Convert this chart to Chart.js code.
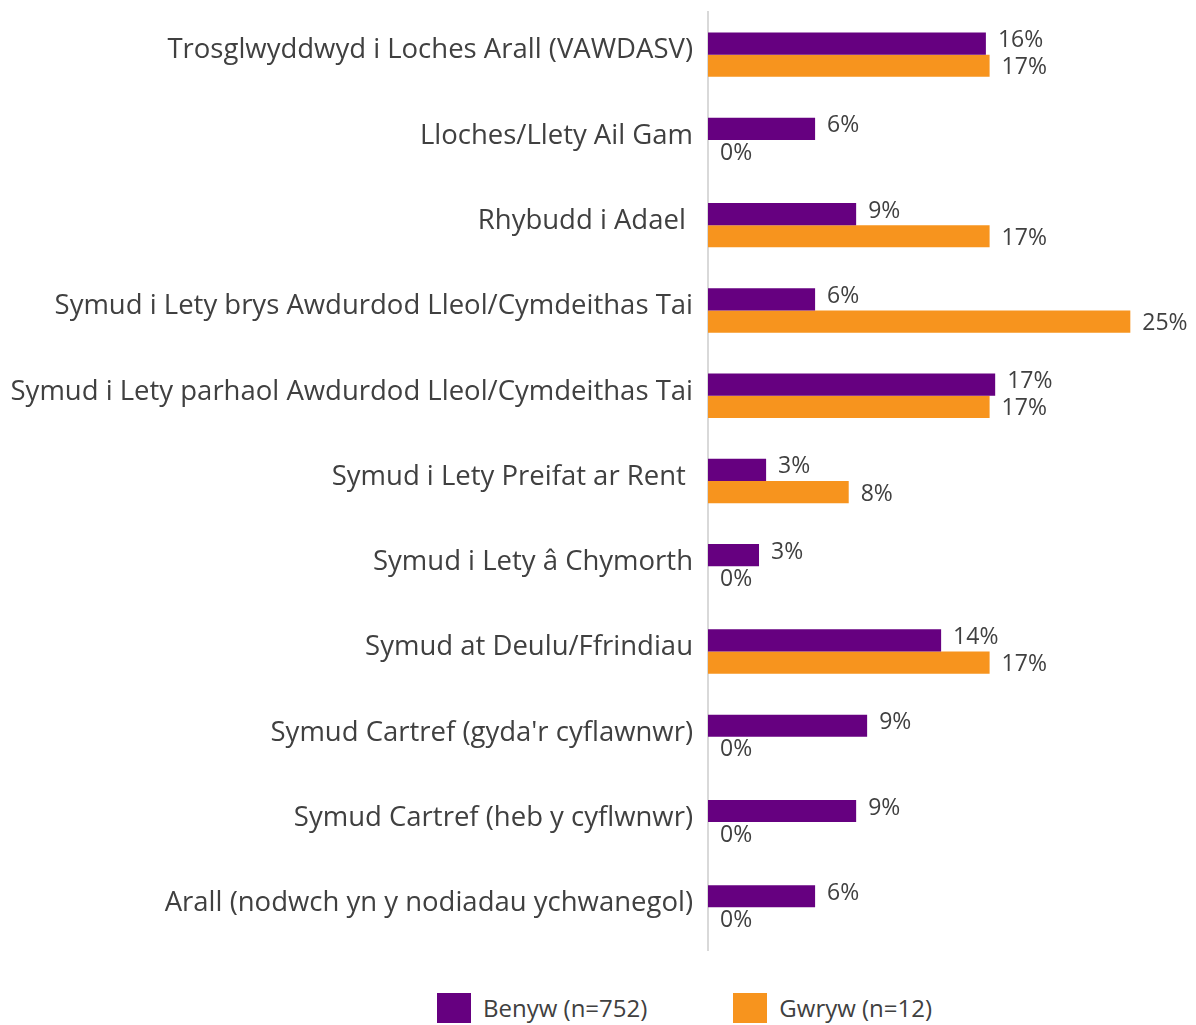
<!DOCTYPE html>
<html>
<head>
<meta charset="utf-8">
<script src="https://cdn.jsdelivr.net/npm/chart.js@4"></script>
<style>
  body { margin: 0; background: #fff; font-family: "Open Sans", sans-serif; }
  #wrap { position: relative; width: 1196px; height: 1025px; }
  #chartBox { position: absolute; left: 0; top: 0; width: 1196px; height: 965px; }
  #legend { position: absolute; left: 437px; top: 993px; display: flex; align-items: center; }
  .leg-item { display: flex; align-items: center; margin-right: 86px; }
  .leg-box { width: 34px; height: 30px; margin-right: 12px; }
  .leg-text { font-size: 24px; color: #404040; line-height: 30px; }
</style>
</head>
<body>
<div id="wrap">
  <div id="chartBox"><canvas id="c"></canvas></div>
  <div id="legend"></div>
</div>
<script>
/* Horizontal grouped bars — Benyw vs Gwryw outcomes */

const categories = [
  "Trosglwyddwyd i Loches Arall (VAWDASV)",
  "Lloches/Llety Ail Gam",
  "Rhybudd i Adael ",
  "Symud i Lety brys Awdurdod Lleol/Cymdeithas Tai",
  "Symud i Lety parhaol Awdurdod Lleol/Cymdeithas Tai",
  "Symud i Lety Preifat ar Rent ",
  "Symud i Lety â Chymorth",
  "Symud at Deulu/Ffrindiau",
  "Symud Cartref (gyda'r cyflawnwr)",
  "Symud Cartref (heb y cyflwnwr)",
  "Arall (nodwch yn y nodiadau ychwanegol)"
];

const seriesNames = ["Benyw (n=752)", "Gwryw (n=12)"];
const seriesColors = ["#660080", "#F7941E"];

const benyw = [16.45, 6.34, 8.77, 6.34, 17.0, 3.44, 3.02, 13.8, 9.42, 8.77, 6.34];
const gwryw = [16.67, 0, 16.67, 25, 16.67, 8.33, 0, 16.67, 0, 0, 0];

const TEXT = "#404040";
const FONT = "'Open Sans', sans-serif";

// value labels at bar ends
const barLabels = {
  id: "barLabels",
  afterDatasetsDraw(chart) {
    const ctx = chart.ctx;
    ctx.save();
    ctx.font = "23px " + FONT;
    ctx.fillStyle = TEXT;
    ctx.textAlign = "left";
    ctx.textBaseline = "middle";
    chart.data.datasets.forEach(function (ds, di) {
      const meta = chart.getDatasetMeta(di);
      const dy = di === 0 ? -3 : 2;
      meta.data.forEach(function (bar, i) {
        const v = ds.data[i];
        ctx.fillText(Math.round(v) + "%", bar.x + 12, bar.y + dy);
      });
    });
    ctx.restore();
  }
};

new Chart(document.getElementById("c"), {
  type: "bar",
  data: {
    labels: categories,
    datasets: [
      { label: seriesNames[0], data: benyw, backgroundColor: seriesColors[0] },
      { label: seriesNames[1], data: gwryw, backgroundColor: seriesColors[1] }
    ]
  },
  options: {
    indexAxis: "y",
    responsive: true,
    maintainAspectRatio: false,
    animation: false,
    layout: { padding: { top: 12, bottom: 15, right: 15, left: 0 } },
    datasets: { bar: { categoryPercentage: 0.52, barPercentage: 1.0 } },
    plugins: {
      legend: { display: false },
      tooltip: { enabled: false }
    },
    scales: {
      x: { display: false, min: 0, max: 28 },
      y: {
        grid: { display: false, drawTicks: false },
        border: { display: true, color: "#d9d9d9", width: 2 },
        ticks: {
          color: TEXT,
          font: { family: FONT, size: 27.5 },
          padding: 15,
          labelOffset: -4
        },
        afterFit: function (scale) {
          scale.width = 708;
          scale.paddingTop = 0;
          scale.paddingBottom = 0;
        }
      }
    }
  },
  plugins: [barLabels]
});

// legend built from the series arrays
const legendEl = document.getElementById("legend");
seriesNames.forEach(function (name, i) {
  const item = document.createElement("div");
  item.className = "leg-item";
  item.innerHTML = '<div class="leg-box" style="background:' + seriesColors[i] + '"></div>' +
    '<span class="leg-text">' + name + '</span>';
  legendEl.appendChild(item);
});
</script>
</body>
</html>
